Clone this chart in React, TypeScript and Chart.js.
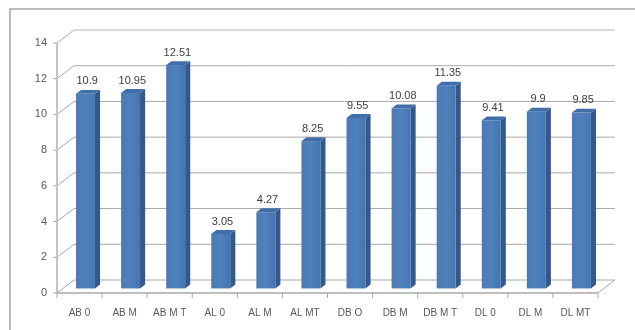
import React, { useEffect, useRef } from "react";
import { Chart, registerables } from "chart.js";

Chart.register(...registerables);

const categories = ["AB 0", "AB M", "AB M T", "AL 0", "AL M", "AL MT", "DB O", "DB M", "DB M T", "DL 0", "DL M", "DL MT"];
const values = [10.9, 10.95, 12.51, 3.05, 4.27, 8.25, 9.55, 10.08, 11.35, 9.41, 9.9, 9.85];
const valueLabels = ["10.9", "10.95", "12.51", "3.05", "4.27", "8.25", "9.55", "10.08", "11.35", "9.41", "9.9", "9.85"];
const yTicks = [0, 2, 4, 6, 8, 10, 12, 14];

const DX = 17;
const DY = -13;
const F1 = 0.35;
const F2 = 0.65;
const FONT = "'Liberation Sans Narrow', 'Liberation Sans', sans-serif";

const threeD = {
  id: "threeD",
  beforeDatasetsDraw(chart: any) {
    const ctx = chart.ctx;
    const ca = chart.chartArea;
    const y = chart.scales.y;
    ctx.save();
    // outer border
    ctx.strokeStyle = "#a6a6a6";
    ctx.lineWidth = 1.5;
    ctx.beginPath();
    ctx.moveTo(10, 330);
    ctx.lineTo(10, 9);
    ctx.lineTo(635, 9);
    ctx.stroke();

    // back wall gridlines + left wall diagonals
    yTicks.forEach((t) => {
      const py = y.getPixelForValue(t);
      ctx.strokeStyle = t === 14 ? "#cfcfcf" : "#a8a8a8";
      ctx.lineWidth = t === 14 ? 1.5 : 1;
      ctx.beginPath();
      ctx.moveTo(ca.left + DX, py + DY);
      ctx.lineTo(ca.right + DX, py + DY);
      ctx.stroke();
      ctx.strokeStyle = "#a8a8a8";
      ctx.lineWidth = 1;
      ctx.beginPath();
      ctx.moveTo(ca.left, py);
      ctx.lineTo(ca.left + DX, py + DY);
      ctx.stroke();
      // tick mark
      ctx.beginPath();
      ctx.moveTo(ca.left - 4, py);
      ctx.lineTo(ca.left, py);
      ctx.stroke();
      // label
      ctx.fillStyle = "#595959";
      ctx.font = "11px " + FONT;
      ctx.textAlign = "right";
      ctx.textBaseline = "middle";
      ctx.fillText(String(t), ca.left - 10, py);
    });
    // floor
    const y0 = y.getPixelForValue(0);
    ctx.strokeStyle = "#a8a8a8";
    ctx.lineWidth = 1;
    ctx.beginPath();
    ctx.moveTo(ca.right, y0);
    ctx.lineTo(ca.right + DX, y0 + DY);
    ctx.stroke();
    // y axis line
    ctx.strokeStyle = "#c4c4c4";
    ctx.lineWidth = 2;
    ctx.beginPath();
    ctx.moveTo(ca.left, y.getPixelForValue(14));
    ctx.lineTo(ca.left, y0);
    ctx.stroke();
    // x axis line
    ctx.strokeStyle = "#a8a8a8";
    ctx.lineWidth = 1.5;
    ctx.beginPath();
    ctx.moveTo(ca.left, y0);
    ctx.lineTo(ca.right, y0);
    ctx.stroke();
    // category ticks + labels
    const x = chart.scales.x;
    const n = categories.length;
    const step = (ca.right - ca.left) / n;
    ctx.lineWidth = 1;
    for (let i = 0; i <= n; i++) {
      const px = ca.left + i * step;
      ctx.beginPath();
      ctx.moveTo(px, y0);
      ctx.lineTo(px, y0 + 5);
      ctx.stroke();
    }
    ctx.fillStyle = "#595959";
    ctx.font = "10px " + FONT;
    ctx.textAlign = "center";
    ctx.textBaseline = "middle";
    categories.forEach((c, i) => {
      ctx.fillText(c, x.getPixelForValue(i), 313);
    });
    ctx.restore();
  },
  afterDatasetsDraw(chart: any) {
    const ctx = chart.ctx;
    const meta = chart.getDatasetMeta(0);
    ctx.save();
    meta.data.forEach((bar: any, i: number) => {
      const w = bar.width;
      const left = bar.x - w / 2 + DX * F1;
      const right = bar.x + w / 2 + DX * F1;
      const top = bar.y + DY * F1;
      const bottom = bar.base + DY * F1;
      const ox = DX * (F2 - F1);
      const oy = DY * (F2 - F1);
      // side
      ctx.fillStyle = "#33588a";
      ctx.beginPath();
      ctx.moveTo(right, top);
      ctx.lineTo(right + ox, top + oy);
      ctx.lineTo(right + ox, bottom + oy);
      ctx.lineTo(right, bottom);
      ctx.closePath();
      ctx.fill();
      // top
      ctx.fillStyle = "#3f6ea8";
      ctx.beginPath();
      ctx.moveTo(left, top);
      ctx.lineTo(left + ox, top + oy);
      ctx.lineTo(right + ox, top + oy);
      ctx.lineTo(right, top);
      ctx.closePath();
      ctx.fill();
      // front
      const g = ctx.createLinearGradient(left, 0, right, 0);
      g.addColorStop(0, "#4a7ab6");
      g.addColorStop(0.5, "#4f81bd");
      g.addColorStop(1, "#4675b0");
      ctx.fillStyle = g;
      ctx.fillRect(left, top, right - left, bottom - top);
      // label
      ctx.fillStyle = "#404040";
      ctx.font = "11px " + FONT;
      ctx.textAlign = "center";
      ctx.textBaseline = "bottom";
      ctx.fillText(valueLabels[i], bar.x + DX * 0.45, top + oy - 3);
    });
    ctx.restore();
  },
};

export default function App() {
  const ref = useRef<HTMLCanvasElement>(null);
  useEffect(() => {
    if (!ref.current) return;
    const chart = new Chart(ref.current, {
      type: "bar",
      data: {
        labels: categories,
        datasets: [
          {
            data: values,
            backgroundColor: "rgba(0,0,0,0)",
            borderWidth: 0,
            barPercentage: 0.42,
            categoryPercentage: 1,
          },
        ],
      },
      options: {
        animation: false,
        responsive: false,
        maintainAspectRatio: false,
        layout: { padding: { left: 57, right: 37, top: 43, bottom: 37 } },
        plugins: { legend: { display: false }, tooltip: { enabled: false } },
        scales: {
          x: { display: false },
          y: { display: false, min: 0, max: 14 },
        },
      },
      plugins: [threeD],
    });
    return () => chart.destroy();
  }, []);
  return (
    <div style={{ position: "fixed", left: 0, top: 0, width: 635, height: 330, background: "#fff" }}>
      <canvas ref={ref} width={635} height={330} style={{ display: "block" }} />
    </div>
  );
}
